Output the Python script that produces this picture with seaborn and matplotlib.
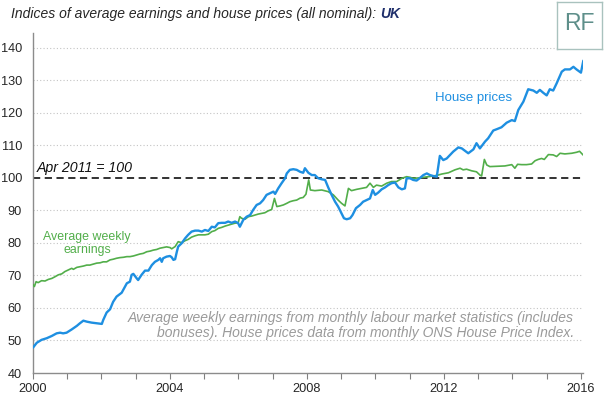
import pandas as pd
import matplotlib
matplotlib.use("Agg")
import matplotlib.pyplot as plt
from matplotlib.ticker import MultipleLocator, FixedLocator
import seaborn as sns

# data (decimal years, index Apr 2011 = 100)
house_years = [
    2000.00, 2000.11, 2000.25, 2000.40, 2000.55, 2000.69, 2000.79, 2000.88, 2000.98,
    2001.13, 2001.28, 2001.37, 2001.47, 2001.57, 2001.71, 2001.86, 2002.01, 2002.05,
    2002.15, 2002.25, 2002.34, 2002.44, 2002.59, 2002.74, 2002.83, 2002.88, 2002.93,
    2003.03, 2003.07, 2003.17, 2003.27, 2003.37, 2003.47, 2003.56, 2003.66, 2003.71,
    2003.76, 2003.80, 2003.90, 2004.00, 2004.05, 2004.10, 2004.15, 2004.20, 2004.24,
    2004.34, 2004.44, 2004.53, 2004.63, 2004.73, 2004.83, 2004.93, 2005.02, 2005.12,
    2005.22, 2005.31, 2005.41, 2005.51, 2005.61, 2005.70, 2005.80, 2005.90, 2005.99,
    2006.04, 2006.14, 2006.24, 2006.34, 2006.43, 2006.53, 2006.63, 2006.72, 2006.82,
    2006.92, 2007.02, 2007.07, 2007.16, 2007.26, 2007.36, 2007.41, 2007.50, 2007.60,
    2007.70, 2007.80, 2007.89, 2007.94, 2008.04, 2008.14, 2008.23, 2008.33, 2008.43,
    2008.53, 2008.62, 2008.72, 2008.82, 2008.91, 2009.01, 2009.08, 2009.16, 2009.26,
    2009.33, 2009.43, 2009.55, 2009.64, 2009.74, 2009.84, 2009.92, 2009.99, 2010.08,
    2010.18, 2010.28, 2010.37, 2010.47, 2010.57, 2010.67, 2010.77, 2010.86, 2010.91,
    2011.01, 2011.10, 2011.20, 2011.30, 2011.40, 2011.50, 2011.59, 2011.69, 2011.79,
    2011.88, 2011.98, 2012.08, 2012.27, 2012.42, 2012.52, 2012.71, 2012.86, 2012.95,
    2013.05, 2013.20, 2013.29, 2013.44, 2013.54, 2013.68, 2013.83, 2013.98, 2014.07,
    2014.17, 2014.32, 2014.46, 2014.61, 2014.71, 2014.80, 2014.90, 2015.00, 2015.09,
    2015.19, 2015.29, 2015.44, 2015.53, 2015.68, 2015.78, 2015.87, 2016.00, 2016.07,
]
house_index = [
    47.8, 49.3, 50.2, 50.7, 51.4, 52.2, 52.4, 52.2, 52.4,
    53.4, 54.5, 55.3, 56.1, 55.8, 55.5, 55.3, 55.1, 56.3,
    58.6, 59.6, 61.9, 63.5, 64.7, 67.6, 68.1, 70.2, 70.5,
    69.1, 68.6, 70.2, 71.5, 71.5, 73.2, 74.2, 74.8, 75.3,
    74.2, 75.3, 75.8, 76.0, 75.6, 74.8, 75.0, 77.3, 78.9,
    79.9, 81.4, 82.5, 83.5, 83.8, 83.8, 83.5, 84.0, 83.7,
    85.0, 84.8, 86.1, 86.2, 86.2, 86.6, 86.2, 86.6, 86.1,
    85.0, 87.1, 88.1, 88.6, 90.2, 91.7, 92.2, 93.2, 94.8,
    95.3, 95.8, 95.1, 96.8, 98.4, 99.9, 101.4, 102.5, 102.7,
    102.5, 101.9, 101.6, 103.0, 101.6, 100.9, 100.9, 99.9, 99.6,
    99.4, 97.1, 94.8, 92.7, 91.2, 89.1, 87.6, 87.3, 87.6,
    88.6, 90.7, 91.7, 92.7, 93.2, 93.7, 96.3, 94.8, 95.5,
    96.5, 97.1, 97.8, 98.4, 98.6, 97.1, 96.5, 96.8, 99.9,
    99.9, 99.4, 99.2, 100.0, 100.9, 101.4, 100.9, 100.6, 100.4,
    106.8, 105.5, 106.0, 108.1, 109.4, 109.1, 107.6, 108.8, 110.7,
    109.1, 111.2, 112.2, 114.6, 115.0, 115.6, 117.0, 117.8, 117.5,
    120.9, 123.5, 127.3, 126.9, 126.2, 127.1, 126.2, 125.4, 127.3,
    126.9, 129.1, 132.7, 133.4, 133.4, 134.2, 133.4, 132.4, 136.1,
]

earn_years = [
    2000.00, 2000.04, 2000.09, 2000.15, 2000.25, 2000.35, 2000.45, 2000.55, 2000.64,
    2000.74, 2000.84, 2000.93, 2001.03, 2001.13, 2001.18, 2001.28, 2001.37, 2001.47,
    2001.57, 2001.66, 2001.76, 2001.86, 2001.96, 2002.05, 2002.15, 2002.25, 2002.34,
    2002.44, 2002.54, 2002.64, 2002.74, 2002.83, 2002.93, 2003.03, 2003.12, 2003.22,
    2003.32, 2003.42, 2003.51, 2003.61, 2003.71, 2003.80, 2003.90, 2004.00, 2004.05,
    2004.15, 2004.24, 2004.34, 2004.44, 2004.53, 2004.63, 2004.73, 2004.83, 2004.93,
    2005.02, 2005.12, 2005.22, 2005.31, 2005.41, 2005.51, 2005.61, 2005.70, 2005.80,
    2005.90, 2005.99, 2006.04, 2006.09, 2006.19, 2006.29, 2006.39, 2006.48, 2006.58,
    2006.68, 2006.77, 2006.87, 2006.97, 2007.05, 2007.12, 2007.21, 2007.31, 2007.41,
    2007.50, 2007.60, 2007.70, 2007.80, 2007.89, 2007.97, 2008.05, 2008.10, 2008.23,
    2008.43, 2008.62, 2008.77, 2008.91, 2009.01, 2009.11, 2009.21, 2009.30, 2009.45,
    2009.60, 2009.74, 2009.84, 2009.94, 2010.03, 2010.18, 2010.33, 2010.47, 2010.62,
    2010.77, 2010.91, 2011.01, 2011.10, 2011.25, 2011.40, 2011.54, 2011.69, 2011.83,
    2011.93, 2012.13, 2012.32, 2012.47, 2012.56, 2012.66, 2012.81, 2012.95, 2013.05,
    2013.10, 2013.18, 2013.25, 2013.34, 2013.59, 2013.78, 2013.98, 2014.07, 2014.15,
    2014.27, 2014.41, 2014.56, 2014.66, 2014.75, 2014.85, 2014.93, 2015.05, 2015.19,
    2015.29, 2015.39, 2015.53, 2015.73, 2015.87, 2015.96, 2016.07,
]
earn_index = [
    67.2, 66.6, 68.1, 67.8, 68.4, 68.3, 68.8, 69.1, 69.6,
    70.2, 70.5, 71.2, 71.7, 72.2, 71.9, 72.5, 72.7, 72.9,
    73.2, 73.2, 73.5, 73.8, 73.9, 74.2, 74.2, 74.8, 75.0,
    75.3, 75.5, 75.6, 75.8, 75.8, 76.0, 76.3, 76.6, 76.8,
    77.3, 77.5, 77.8, 78.0, 78.4, 78.6, 78.8, 78.6, 78.2,
    78.9, 80.4, 80.1, 80.7, 81.1, 81.8, 82.2, 82.5, 82.5,
    82.5, 82.7, 83.5, 83.8, 84.5, 84.8, 85.2, 85.5, 85.8,
    86.1, 86.2, 88.1, 87.6, 87.3, 88.1, 88.3, 88.6, 88.9,
    89.1, 89.3, 89.9, 90.3, 93.7, 91.2, 91.4, 91.7, 92.2,
    92.7, 93.0, 93.2, 93.8, 94.0, 95.0, 99.4, 96.3, 96.1,
    96.3, 95.8, 94.8, 93.2, 92.2, 91.4, 96.8, 96.1, 96.5,
    96.8, 97.1, 98.4, 97.1, 97.8, 97.5, 98.4, 98.9, 98.9,
    99.9, 100.4, 100.2, 99.9, 100.0, 100.2, 100.4, 100.6, 100.9,
    101.2, 101.6, 102.5, 103.0, 102.5, 102.7, 102.2, 101.9, 100.9,
    100.6, 105.7, 104.0, 103.5, 103.6, 103.7, 104.1, 103.0, 104.2,
    104.1, 104.1, 104.3, 105.3, 105.7, 106.0, 105.7, 107.2, 107.1,
    106.6, 107.6, 107.4, 107.6, 107.9, 108.2, 107.0,
]

y_ticks = [40, 50, 60, 70, 80, 90, 100, 110, 120, 130, 140]
x_labels = [2000, 2004, 2008, 2012, 2016]

house = pd.DataFrame({"year": house_years, "index": house_index})
earn = pd.DataFrame({"year": earn_years, "index": earn_index})

sns.set_style("white")
plt.rcParams["font.family"] = ["Liberation Sans", "DejaVu Sans"]

blue = "#1E8FE1"
green = "#52AE4A"
grey_text = "#9A9A9A"

fig = plt.figure(figsize=(6.05, 3.97), dpi=100)
ax = fig.add_axes([33 / 605, 1 - 373 / 397, 550 / 605, 340 / 397])

# gridlines (dotted) except the base and the 100 line
for v in y_ticks[1:]:
    if v != 100:
        ax.axhline(v, color="#C4C4C4", linestyle=(0, (1, 2)), linewidth=0.8, zorder=0)
ax.axhline(100, color="#222222", linestyle=(0, (4, 2.5)), linewidth=1.3, zorder=1)

sns.lineplot(data=earn, x="year", y="index", color=green, linewidth=1.2,
             ax=ax, zorder=3, estimator=None, sort=False)
sns.lineplot(data=house, x="year", y="index", color=blue, linewidth=1.7,
             ax=ax, zorder=4, estimator=None, sort=False)

ax.set_xlim(2000, 2016.06)
ax.set_ylim(40, 144.6)
ax.set_xlabel("")
ax.set_ylabel("")

ax.xaxis.set_major_locator(FixedLocator(x_labels))
ax.xaxis.set_minor_locator(MultipleLocator(1))
ax.set_xticklabels([str(x) for x in x_labels])
ax.yaxis.set_major_locator(FixedLocator(y_ticks))
ax.tick_params(axis="x", which="both", direction="out", length=4, width=0.8,
               color="#808080", labelsize=9.2, pad=3, bottom=True)
ax.tick_params(axis="y", length=0, labelsize=9.2, pad=8)

for side in ["top", "right"]:
    ax.spines[side].set_visible(False)
for side in ["left", "bottom"]:
    ax.spines[side].set_color("#8C8C8C")
    ax.spines[side].set_linewidth(1.0)

# annotations
ax.text(2000.12, 103.0, "Apr 2011 = 100", fontsize=10.2, style="italic",
        color="#111111", va="center", ha="left")
ax.text(2012.85, 124.6, "House prices", fontsize=9.5, color=blue,
        va="center", ha="center")
ax.text(2001.58, 79.9, "Average weekly\nearnings", fontsize=8.9, color=green,
        va="center", ha="center", linespacing=1.05)
ax.text(2015.8, 54.6,
        "Average weekly earnings from monthly labour market statistics (includes\n"
        "bonuses). House prices data from monthly ONS House Price Index.",
        fontsize=10.0, style="italic", color=grey_text, ha="right", va="center",
        linespacing=1.1)

# title with bold "UK"
t1 = fig.text(11 / 605, 1 - 14 / 397,
              "Indices of average earnings and house prices (all nominal): ",
              fontsize=10.0, style="italic", color="#262626", va="center", ha="left")
fig.canvas.draw()
bb = t1.get_window_extent(renderer=fig.canvas.get_renderer())
fig.text(bb.x1 / fig.bbox.width, 1 - 14 / 397, "UK", fontsize=10.0,
         style="italic", weight="bold", color="#1F2F6B", va="center", ha="left")

# RF badge
badge = fig.add_axes([557 / 605, 1 - 49 / 397, 45 / 605, 47 / 397])
badge.set_xticks([])
badge.set_yticks([])
for s in badge.spines.values():
    s.set_color("#A9C2BE")
    s.set_linewidth(1.0)
badge.text(0.5, 0.55, "RF", fontsize=16.5, color="#5E8F8A", ha="center",
           va="center", transform=badge.transAxes)

fig.savefig("out.png", dpi=100)
